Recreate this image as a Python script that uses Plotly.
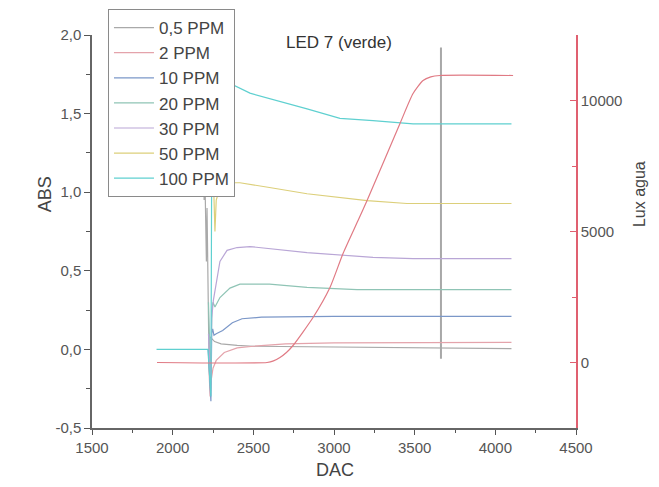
import plotly.graph_objects as go

# ---- data ----
dac_05 = [2190, 2195, 2200, 2205, 2209, 2213, 2218, 2225, 2232, 2260, 2300, 2400, 2500, 3000, 3500, 4100]
abs_05 = [1.25, 0.95, 1.10, 0.80, 0.56, 0.90, 0.30, -0.05, 0.08, 0.05, 0.035, 0.025, 0.02, 0.015, 0.01, 0.005]

dac_2 = [2222, 2232, 2238, 2250, 2270, 2320, 2400, 2500, 2700, 3000, 4100]
abs_2 = [-0.05, -0.30, -0.20, -0.12, -0.07, -0.02, 0.01, 0.02, 0.035, 0.042, 0.045]

dac_10 = [2220, 2237, 2242, 2248, 2256, 2270, 2310, 2370, 2430, 2550, 3000, 4100]
abs_10 = [0.0, -0.33, 0.10, 0.13, 0.09, 0.10, 0.12, 0.17, 0.195, 0.205, 0.21, 0.21]

dac_20 = [2222, 2236, 2243, 2250, 2262, 2293, 2355, 2417, 2600, 2833, 3143, 4100]
abs_20 = [0.30, -0.20, 0.25, 0.30, 0.27, 0.33, 0.39, 0.415, 0.415, 0.395, 0.38, 0.38]

dac_30 = [2222, 2236, 2242, 2252, 2293, 2337, 2399, 2479, 2833, 3242, 3490, 4100]
abs_30 = [0.10, -0.25, 0.20, 0.31, 0.56, 0.63, 0.648, 0.654, 0.616, 0.585, 0.578, 0.578]

dac_50 = [2245, 2255, 2262, 2270, 2285, 2310, 2360, 2417, 2600, 2833, 3205, 3452, 4100]
abs_50 = [1.12, 1.00, 0.75, 0.95, 1.00, 1.04, 1.06, 1.06, 1.03, 0.99, 0.947, 0.928, 0.928]

dac_100 = [1900, 2219, 2237, 2244, 2300, 2400, 2479, 2833, 3037, 3242, 3490, 4100]
abs_100 = [0.0, 0.0, -0.30, 1.80, 1.72, 1.67, 1.63, 1.53, 1.47, 1.455, 1.435, 1.435]

dac_lux = [1903, 2585, 2625, 2665, 2705, 2746, 2870, 2975, 3056, 3149, 3205, 3409, 3490, 3552, 3600, 3657, 4110]
lux_agua = [0, 0, 60, 191, 380, 649, 1718, 2863, 4160, 5420, 6183, 9122, 10267, 10763, 10900, 10954, 10954]

marker_dac = [3663, 3663]
marker_abs = [-0.06, 1.92]

series_names = ["0,5 PPM", "2 PPM", "10 PPM", "20 PPM", "30 PPM", "50 PPM", "100 PPM"]
series_x = [dac_05, dac_2, dac_10, dac_20, dac_30, dac_50, dac_100]
series_y = [abs_05, abs_2, abs_10, abs_20, abs_30, abs_50, abs_100]
series_colors = ["#a9a9a9", "#e4a3ab", "#7b97c8", "#8fc4b5", "#b9a6d6", "#dccf7a", "#5fd0d0"]

x_ticks = [1500, 2000, 2500, 3000, 3500, 4000, 4500]
y_ticks = [-0.5, 0.0, 0.5, 1.0, 1.5, 2.0]
y_ticktext = ["-0,5", "0,0", "0,5", "1,0", "1,5", "2,0"]
y2_ticks = [0, 5000, 10000]
y2_ticktext = ["0", "5000", "10000"]

FONT = "Liberation Sans, Arial, sans-serif"

fig = go.Figure()

fig.add_trace(go.Scatter(x=dac_lux, y=lux_agua, yaxis="y2", mode="lines",
                         line=dict(color="#e07a84", width=1.2, shape="spline", smoothing=0.6),
                         showlegend=False))
fig.add_trace(go.Scatter(x=marker_dac, y=marker_abs, mode="lines",
                         line=dict(color="#a8a8a8", width=2), showlegend=False))

for name, xs, ys, c in zip(series_names, series_x, series_y, series_colors):
    fig.add_trace(go.Scatter(x=xs, y=ys, mode="lines", name=name,
                             line=dict(color=c, width=1.2)))

fig.update_layout(
    width=659, height=487,
    margin=dict(l=84, r=91, t=27, b=67, autoexpand=False),
    paper_bgcolor="white", plot_bgcolor="white",
    font=dict(family=FONT, color="#555", size=15),
    showlegend=True,
    legend=dict(x=0.033, y=1.066, xanchor="left", yanchor="top",
                bgcolor="white", bordercolor="#8a8a8a", borderwidth=1,
                font=dict(size=17, color="#444"), tracegroupgap=0,
                itemwidth=40),
    xaxis=dict(range=[1500, 4500], tickvals=x_ticks, ticks="outside", ticklen=5,
               tickcolor="#555", showline=True, linecolor="#666", linewidth=1.5,
               showgrid=False, zeroline=False,
               minor=dict(dtick=250, tick0=1500, ticks="outside", ticklen=3, tickcolor="#555"),
               tickfont=dict(size=15, color="#555")),
    yaxis=dict(range=[-0.5, 2.0], tickvals=y_ticks, ticktext=y_ticktext, ticks="outside",
               ticklen=6, tickcolor="#555", showline=True, linecolor="#666", linewidth=1.5,
               showgrid=False, zeroline=False,
               minor=dict(dtick=0.25, tick0=0, ticks="outside", ticklen=4, tickcolor="#555"),
               tickfont=dict(size=15, color="#555")),
    yaxis2=dict(range=[-2500, 12500], overlaying="y", side="right", anchor="x",
                tickvals=y2_ticks, ticktext=y2_ticktext, ticks="inside", ticklen=6,
                tickcolor="#e06070", showline=True, linecolor="#e06070", linewidth=1.5,
                showgrid=False, zeroline=False,
                minor=dict(dtick=2500, tick0=0, ticks="inside", ticklen=4, tickcolor="#e06070"),
                tickfont=dict(size=15, color="#555")),
    annotations=[
        dict(text="LED 7 (verde)", x=0.51, y=0.982, xref="paper", yref="paper",
             xanchor="center", yanchor="middle",
             showarrow=False, font=dict(size=17, color="#333")),
        dict(text="DAC", x=0.502, y=-0.107, xref="paper", yref="paper", yanchor="middle",
             showarrow=False, font=dict(size=18, color="#444")),
        dict(text="ABS", x=-0.097, y=0.595, xref="paper", yref="paper", xanchor="center",
             textangle=-90, showarrow=False, font=dict(size=18, color="#444")),
        dict(text="Lux agua", x=1.13, y=0.595, xref="paper", yref="paper", xanchor="center",
             textangle=-90, showarrow=False, font=dict(size=16, color="#444")),
    ],
)

fig.write_html("out.html")
